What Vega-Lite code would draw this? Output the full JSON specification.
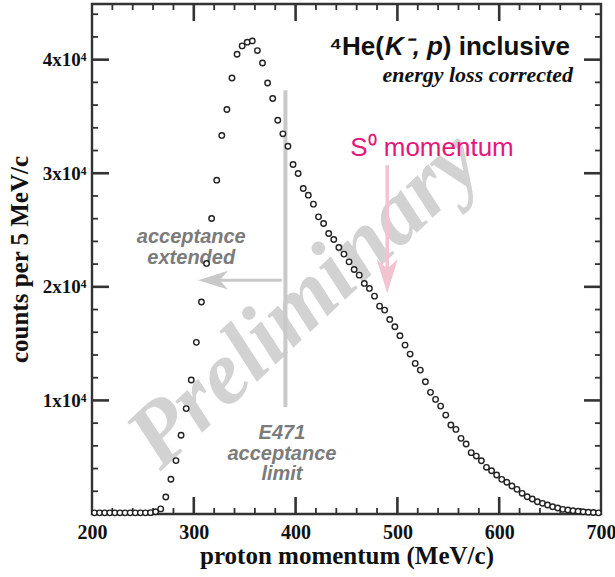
{
  "$schema": "https://vega.github.io/schema/vega-lite/v6.json",
  "width": 509,
  "height": 510,
  "autosize": {"type": "none"},
  "padding": {"left": 92, "top": 4, "right": 14, "bottom": 63},
  "background": "white",
  "view": {"stroke": "#333333", "strokeWidth": 2.4},
  "datasets": {
    "xmaj": [{"v":300},{"v":400},{"v":500},{"v":600}],
    "xmin": [{"v":220},{"v":240},{"v":260},{"v":280},{"v":320},{"v":340},{"v":360},{"v":380},{"v":420},{"v":440},{"v":460},{"v":480},{"v":520},{"v":540},{"v":560},{"v":580},{"v":620},{"v":640},{"v":660},{"v":680}],
    "ymaj": [{"v":10000},{"v":20000},{"v":30000},{"v":40000}],
    "ymin": [{"v":2000},{"v":4000},{"v":6000},{"v":8000},{"v":12000},{"v":14000},{"v":16000},{"v":18000},{"v":22000},{"v":24000},{"v":26000},{"v":28000},{"v":32000},{"v":34000},{"v":36000},{"v":38000},{"v":42000},{"v":44000}],
    "pts": [
      {"p":202.5,"c":100},{"p":207.5,"c":100},{"p":212.5,"c":100},{"p":217.5,"c":100},{"p":222.5,"c":100},
      {"p":227.5,"c":100},{"p":232.5,"c":100},{"p":237.5,"c":100},{"p":242.5,"c":100},{"p":247.5,"c":100},
      {"p":252.5,"c":100},{"p":257.5,"c":120},{"p":262.5,"c":200},{"p":267.5,"c":450},{"p":272.5,"c":1500},
      {"p":277.5,"c":3060},{"p":282.5,"c":4700},{"p":287.5,"c":6930},{"p":292.5,"c":9280},{"p":297.5,"c":11800},
      {"p":302.5,"c":15110},{"p":307.5,"c":18660},{"p":312.5,"c":22060},{"p":317.5,"c":26020},{"p":322.5,"c":29390},
      {"p":327.5,"c":33330},{"p":332.5,"c":35610},{"p":337.5,"c":38390},{"p":342.5,"c":40480},{"p":347.5,"c":41210},
      {"p":352.5,"c":41540},{"p":357.5,"c":41650},{"p":362.5,"c":40800},{"p":367.5,"c":39710},{"p":372.5,"c":37950},
      {"p":377.5,"c":36580},{"p":382.5,"c":34670},{"p":387.5,"c":33470},{"p":392.5,"c":32380},{"p":397.5,"c":30770},
      {"p":402.5,"c":29980},{"p":407.5,"c":28660},{"p":412.5,"c":28070},{"p":417.5,"c":27280},{"p":422.5,"c":26160},
      {"p":427.5,"c":25580},{"p":432.5,"c":24700},{"p":437.5,"c":24170},{"p":442.5,"c":23470},{"p":447.5,"c":22880},
      {"p":452.5,"c":22200},{"p":457.5,"c":21530},{"p":462.5,"c":21030},{"p":467.5,"c":20300},{"p":472.5,"c":19860},
      {"p":477.5,"c":19180},{"p":482.5,"c":18300},{"p":487.5,"c":17950},{"p":492.5,"c":17130},{"p":497.5,"c":16480},
      {"p":502.5,"c":15700},{"p":507.5,"c":14870},{"p":512.5,"c":14080},{"p":517.5,"c":13260},{"p":522.5,"c":12670},
      {"p":527.5,"c":11640},{"p":532.5,"c":10710},{"p":537.5,"c":10090},{"p":542.5,"c":9500},{"p":547.5,"c":8710},
      {"p":552.5,"c":7830},{"p":557.5,"c":7450},{"p":562.5,"c":6660},{"p":567.5,"c":6160},{"p":572.5,"c":5400},
      {"p":577.5,"c":5100},{"p":582.5,"c":4690},{"p":587.5,"c":4110},{"p":592.5,"c":3810},{"p":597.5,"c":3430},
      {"p":602.5,"c":3050},{"p":607.5,"c":2790},{"p":612.5,"c":2460},{"p":617.5,"c":2170},{"p":622.5,"c":1820},
      {"p":627.5,"c":1520},{"p":632.5,"c":1320},{"p":637.5,"c":1080},{"p":642.5,"c":940},{"p":647.5,"c":790},
      {"p":652.5,"c":640},{"p":657.5,"c":530},{"p":662.5,"c":410},{"p":667.5,"c":350},{"p":672.5,"c":290},
      {"p":677.5,"c":240},{"p":682.5,"c":200},{"p":687.5,"c":160},{"p":692.5,"c":130},{"p":697.5,"c":100}
    ]
  },
  "layer": [
    {
      "data": {"values": [{"p": 409, "c": 18830, "t": "Preliminary"}]},
      "mark": {"type": "text", "font": "Liberation Serif", "fontWeight": "bold", "fontStyle": "italic", "fontSize": 90, "color": "#d2d2d2", "angle": 317, "align": "center", "baseline": "middle"},
      "encoding": {
        "x": {"field": "p", "type": "quantitative", "scale": {"domain": [200, 700], "nice": false, "zero": false},
          "axis": {"orient": "bottom", "grid": false, "ticks": false, "domain": false,
            "values": [200,300,400,500,600,700],
            "labelPadding": 8, "labelFlush": false, "labelOverlap": false,
            "labelFont": "Liberation Serif", "labelFontWeight": "bold", "labelFontSize": 20, "labelColor": "#111111",
            "title": "proton momentum (MeV/c)", "titleFont": "Liberation Serif", "titleFontWeight": "bold", "titleFontSize": 25, "titleColor": "#111111", "titlePadding": 1}},
        "y": {"field": "c", "type": "quantitative", "scale": {"domain": [0, 44900], "nice": false, "zero": false},
          "axis": {"orient": "left", "grid": false, "ticks": false, "domain": false,
            "values": [10000,20000,30000,40000],
            "labelExpr": "(datum.value / 10000) + 'x10⁴'",
            "labelPadding": 6, "labelOverlap": false, "labelFlush": false,
            "labelFont": "Liberation Serif", "labelFontWeight": "bold", "labelFontSize": 19, "labelColor": "#111111",
            "title": "counts per 5 MeV/c", "titleFont": "Liberation Serif", "titleFontWeight": "bold", "titleFontSize": 25, "titleColor": "#111111", "titlePadding": 10}},
        "text": {"field": "t"}
      }
    },
    {
      "data": {"name": "xmaj"},
      "mark": {"type": "rule", "strokeWidth": 2.6, "color": "#333333"},
      "encoding": {"x": {"field": "v", "type": "quantitative"}, "y": {"datum": 0, "type": "quantitative"}, "y2": {"datum": 1496}}
    },
    {
      "data": {"name": "xmaj"},
      "mark": {"type": "rule", "strokeWidth": 2.6, "color": "#333333"},
      "encoding": {"x": {"field": "v", "type": "quantitative"}, "y": {"datum": 44900, "type": "quantitative"}, "y2": {"datum": 43404}}
    },
    {
      "data": {"name": "xmin"},
      "mark": {"type": "rule", "strokeWidth": 1.8, "color": "#333333"},
      "encoding": {"x": {"field": "v", "type": "quantitative"}, "y": {"datum": 0, "type": "quantitative"}, "y2": {"datum": 528}}
    },
    {
      "data": {"name": "xmin"},
      "mark": {"type": "rule", "strokeWidth": 1.8, "color": "#333333"},
      "encoding": {"x": {"field": "v", "type": "quantitative"}, "y": {"datum": 44900, "type": "quantitative"}, "y2": {"datum": 44372}}
    },
    {
      "data": {"name": "ymaj"},
      "mark": {"type": "rule", "strokeWidth": 2.6, "color": "#333333"},
      "encoding": {"y": {"field": "v", "type": "quantitative"}, "x": {"datum": 200, "type": "quantitative"}, "x2": {"datum": 216.7}}
    },
    {
      "data": {"name": "ymaj"},
      "mark": {"type": "rule", "strokeWidth": 2.6, "color": "#333333"},
      "encoding": {"y": {"field": "v", "type": "quantitative"}, "x": {"datum": 700, "type": "quantitative"}, "x2": {"datum": 683.3}}
    },
    {
      "data": {"name": "ymin"},
      "mark": {"type": "rule", "strokeWidth": 1.8, "color": "#333333"},
      "encoding": {"y": {"field": "v", "type": "quantitative"}, "x": {"datum": 200, "type": "quantitative"}, "x2": {"datum": 205.9}}
    },
    {
      "data": {"name": "ymin"},
      "mark": {"type": "rule", "strokeWidth": 1.8, "color": "#333333"},
      "encoding": {"y": {"field": "v", "type": "quantitative"}, "x": {"datum": 700, "type": "quantitative"}, "x2": {"datum": 694.1}}
    },
    {
      "data": {"values": [{"p": 390, "c1": 9420, "c2": 37310}]},
      "mark": {"type": "rule", "color": "#c9c9c9", "strokeWidth": 4},
      "encoding": {
        "x": {"field": "p", "type": "quantitative"},
        "y": {"field": "c1", "type": "quantitative"},
        "y2": {"field": "c2"}
      }
    },
    {
      "data": {"values": [{"p1": 312, "p2": 386.5, "c": 20590}]},
      "mark": {"type": "rule", "color": "#c9c9c9", "strokeWidth": 3},
      "encoding": {
        "x": {"field": "p1", "type": "quantitative"},
        "x2": {"field": "p2"},
        "y": {"field": "c", "type": "quantitative"}
      }
    },
    {
      "data": {"values": [{"p": 318.9, "c": 20590}]},
      "mark": {"type": "point", "shape": "M -1 0 L 1 -0.62 L 0.45 0 L 1 0.62 Z", "filled": true, "color": "#c9c9c9", "size": 900, "opacity": 1},
      "encoding": {
        "x": {"field": "p", "type": "quantitative"},
        "y": {"field": "c", "type": "quantitative"}
      }
    },
    {
      "data": {"values": [{"p": 490, "c1": 20600, "c2": 30710}]},
      "mark": {"type": "rule", "color": "#f2c3d1", "strokeWidth": 3.5},
      "encoding": {
        "x": {"field": "p", "type": "quantitative"},
        "y": {"field": "c1", "type": "quantitative"},
        "y2": {"field": "c2"}
      }
    },
    {
      "data": {"values": [{"p": 490, "c": 20940}]},
      "mark": {"type": "point", "shape": "M 0 1 L -0.62 -1 L 0 -0.45 L 0.62 -1 Z", "filled": true, "color": "#f2c3d1", "size": 1156, "opacity": 1},
      "encoding": {
        "x": {"field": "p", "type": "quantitative"},
        "y": {"field": "c", "type": "quantitative"}
      }
    },
    {
      "data": {"values": [
        {"p": 297.5, "c": 23850, "t": "acceptance"},
        {"p": 297.5, "c": 22000, "t": "extended"},
        {"p": 386.6, "c": 6600, "t": "E471"},
        {"p": 386.6, "c": 4750, "t": "acceptance"},
        {"p": 386.6, "c": 2990, "t": "limit"}
      ]},
      "mark": {"type": "text", "font": "Liberation Sans", "fontWeight": "bold", "fontStyle": "italic", "fontSize": 20, "color": "#7b7b7b", "align": "center", "baseline": "alphabetic"},
      "encoding": {
        "x": {"field": "p", "type": "quantitative"},
        "y": {"field": "c", "type": "quantitative"},
        "text": {"field": "t"}
      }
    },
    {
      "data": {"values": [{"p": 453.6, "c": 31500, "t": "S⁰ momentum"}]},
      "mark": {"type": "text", "font": "Liberation Sans", "fontSize": 26, "color": "#e5177b", "align": "left", "baseline": "alphabetic"},
      "encoding": {
        "x": {"field": "p", "type": "quantitative"},
        "y": {"field": "c", "type": "quantitative"},
        "text": {"field": "t"}
      }
    },
    {
      "data": {"values": [
        {"p": 486.8, "c": 40390, "t": "⁴He("},
        {"p": 669.5, "c": 40390, "t": ") inclusive"}
      ]},
      "mark": {"type": "text", "font": "Liberation Sans", "fontWeight": "bold", "fontSize": 26, "color": "#111111", "align": "right", "baseline": "alphabetic"},
      "encoding": {
        "x": {"field": "p", "type": "quantitative"},
        "y": {"field": "c", "type": "quantitative"},
        "text": {"field": "t"}
      }
    },
    {
      "data": {"values": [
        {"p": 522.2, "c": 40390, "t": "K⁻,"},
        {"p": 544.8, "c": 40390, "t": "p"}
      ]},
      "mark": {"type": "text", "font": "Liberation Sans", "fontWeight": "bold", "fontStyle": "italic", "fontSize": 26, "color": "#111111", "align": "right", "baseline": "alphabetic"},
      "encoding": {
        "x": {"field": "p", "type": "quantitative"},
        "y": {"field": "c", "type": "quantitative"},
        "text": {"field": "t"}
      }
    },
    {
      "data": {"values": [{"p": 672.5, "c": 38020, "t": "energy loss corrected"}]},
      "mark": {"type": "text", "font": "Liberation Serif", "fontWeight": "bold", "fontStyle": "italic", "fontSize": 22, "color": "#111111", "align": "right", "baseline": "alphabetic"},
      "encoding": {
        "x": {"field": "p", "type": "quantitative"},
        "y": {"field": "c", "type": "quantitative"},
        "text": {"field": "t"}
      }
    },
    {
      "data": {"name": "pts"},
      "mark": {"type": "point", "shape": "circle", "filled": false, "fill": "white", "stroke": "#222222", "strokeWidth": 1.4, "size": 30, "opacity": 1},
      "encoding": {
        "x": {"field": "p", "type": "quantitative"},
        "y": {"field": "c", "type": "quantitative"}
      }
    }
  ]
}
